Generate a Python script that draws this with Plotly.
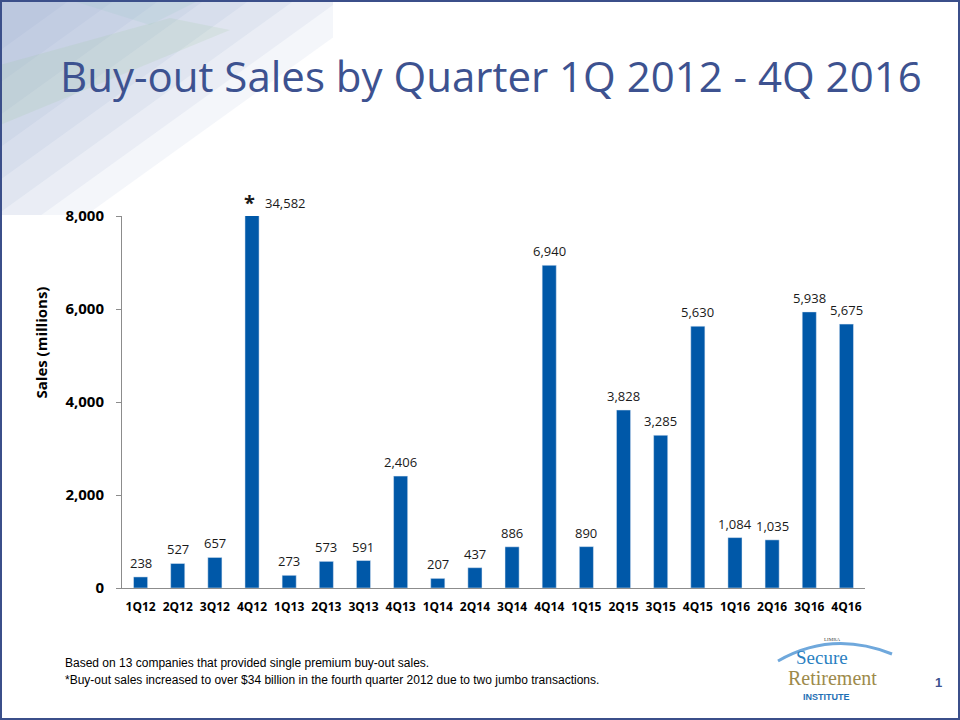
import plotly.graph_objects as go

quarters = ["1Q12","2Q12","3Q12","4Q12","1Q13","2Q13","3Q13","4Q13","1Q14","2Q14",
            "3Q14","4Q14","1Q15","2Q15","3Q15","4Q15","1Q16","2Q16","3Q16","4Q16"]
sales = [238, 527, 657, 34582, 273, 573, 591, 2406, 207, 437,
         886, 6940, 890, 3828, 3285, 5630, 1084, 1035, 5938, 5675]
y_ticks = [0, 2000, 4000, 6000, 8000]
y_max = 8000

title = "Buy-out Sales by Quarter 1Q 2012 - 4Q 2016"
y_title = "Sales (millions)"
note1 = "Based on 13 companies that provided single premium buy-out sales."
note2 = "*Buy-out sales increased to over $34 billion in the fourth quarter 2012 due to two jumbo transactions."

# plot-area geometry in pixels
L, R, T, B = 122, 865, 216, 588
W, H = R - L, B - T
def px(x): return (x - L) / W
def py(y): return (B - y) / H

BAR = "#0058A8"
TXT = "#1a1a1a"
TITLE = "#3D5290"
FONT = "Open Sans"

fig = go.Figure()
fig.add_trace(go.Bar(x=quarters, y=sales, marker_color=BAR, width=0.38,
                     hoverinfo="x+y", showlegend=False))

ann = []
for q, v in zip(quarters, sales):
    if v > y_max:
        ann.append(dict(x=q, y=y_max, xref="x", yref="y", text="<b>*</b>", showarrow=False,
                        yanchor="bottom", xshift=-3, yshift=-2,
                        font=dict(family=FONT, size=20, color=TXT)))
        ann.append(dict(x=q, y=y_max, xref="x", yref="y", text=f"{v:,}", showarrow=False,
                        yanchor="bottom", xshift=33, yshift=2,
                        font=dict(family=FONT, size=13, color=TXT)))
    else:
        ann.append(dict(x=q, y=v, xref="x", yref="y", text=f"{v:,}", showarrow=False,
                        yanchor="bottom", yshift=3,
                        font=dict(family=FONT, size=13, color=TXT)))

ann += [
    dict(x=px(491), y=py(76), xref="paper", yref="paper", text=title, showarrow=False,
         xanchor="center", yanchor="middle", font=dict(family=FONT, size=42, color=TITLE)),
    dict(x=px(40), y=0.5 * (py(278) + py(407)), xref="paper", yref="paper", text=f"<b>{y_title}</b>",
         showarrow=False, textangle=-90, xanchor="center", yanchor="middle",
         font=dict(family=FONT, size=15, color="#000000")),
    dict(x=px(63), y=py(663), xref="paper", yref="paper", text=note1, showarrow=False,
         xanchor="left", yanchor="middle",
         font=dict(family="Liberation Sans Narrow, Arial Narrow, Liberation Sans", size=12, color="#000000")),
    dict(x=px(63), y=py(680), xref="paper", yref="paper", text=note2, showarrow=False,
         xanchor="left", yanchor="middle",
         font=dict(family="Liberation Sans Narrow, Arial Narrow, Liberation Sans", size=12, color="#000000")),
    dict(x=px(938), y=py(682), xref="paper", yref="paper", text="<b>1</b>", showarrow=False,
         xanchor="center", yanchor="middle", font=dict(family="Liberation Sans", size=13, color=TITLE)),
    # logo texts
    dict(x=px(832), y=py(639), xref="paper", yref="paper", text="LIMRA", showarrow=False,
         xanchor="center", yanchor="middle", font=dict(family="Liberation Serif", size=5, color="#444444")),
    dict(x=px(822), y=py(657), xref="paper", yref="paper", text="Secure", showarrow=False,
         xanchor="center", yanchor="middle", font=dict(family="Liberation Serif", size=19, color="#2A7FC1")),
    dict(x=px(832), y=py(678), xref="paper", yref="paper", text="Retirement", showarrow=False,
         xanchor="center", yanchor="middle", font=dict(family="Liberation Serif", size=20, color="#9D8A4B")),
    dict(x=px(826), y=py(697), xref="paper", yref="paper", text="<b>INSTITUTE</b>", showarrow=False,
         xanchor="center", yanchor="middle", font=dict(family="Liberation Sans", size=9, color="#1F6FB5")),
]

# decorative top-left background: stacked translucent triangles -> soft diagonal gradient
BW, BH, SL = 333, 215, 0.72
shapes = []
for k in [70, 115, 160, 205, 250, 295, 340, 385]:
    pts = [(0, 0), (min(k, BW), 0)]
    if k > BW:
        pts.append((BW, min(BH, SL * (k - BW))))
    if SL * k > BH:
        pts.append((max(0, min(BW, k - BH / SL)), BH))
    pts.append((0, min(BH, SL * k)))
    path = "M " + " L ".join(f"{px(a)},{py(b)}" for a, b in pts) + " Z"
    shapes.append(dict(type="path", xref="paper", yref="paper", layer="below", line=dict(width=0),
                       path=path, fillcolor="rgba(130,155,195,0.09)"))
shapes += [
    dict(type="path", xref="paper", yref="paper", layer="below", line=dict(width=0),
         path=f"M {px(0)},{py(65)} L {px(170)},{py(18)} L {px(230)},{py(30)} L {px(0)},{py(125)} Z",
         fillcolor="rgba(150,195,140,0.14)"),
    dict(type="path", xref="paper", yref="paper", layer="below", line=dict(width=0),
         path=f"M {px(70)},{py(0)} L {px(200)},{py(0)} L {px(150)},{py(25)} Z",
         fillcolor="rgba(150,200,190,0.16)"),
    # logo arc
    dict(type="path", xref="paper", yref="paper", line=dict(color="#6FA8DC", width=3),
         path=f"M {px(778)},{py(661)} Q {px(832)},{py(630)} {px(892)},{py(654)}"),
    # slide border
    dict(type="rect", xref="paper", yref="paper", x0=px(1), x1=px(959), y0=py(1), y1=py(719),
         line=dict(color="#3B4F8A", width=2), fillcolor="rgba(0,0,0,0)"),
]

fig.update_layout(
    width=960, height=720,
    margin=dict(l=L, r=960 - R, t=T, b=720 - B, autoexpand=False),
    paper_bgcolor="white", plot_bgcolor="rgba(0,0,0,0)",
    annotations=ann, shapes=shapes,
    xaxis=dict(showline=True, linecolor="#8c8c8c", linewidth=1, ticks="", showgrid=False,
               tickfont=dict(family=FONT, size=12, color="#000000"), fixedrange=True,
               tickprefix="<b>", ticksuffix="</b>", ticklabelstandoff=8),
    yaxis=dict(range=[0, y_max], tickvals=y_ticks, ticktext=[f"<b>{t:,}</b>" for t in y_ticks],
               showline=True, linecolor="#8c8c8c", linewidth=1, ticks="outside", ticklen=5,
               tickcolor="#8c8c8c", showgrid=False, zeroline=False, ticklabelstandoff=9,
               tickfont=dict(family=FONT, size=15, color="#000000"), fixedrange=True),
)

fig.write_html("out.html", config={"displayModeBar": False},
               post_script="document.body.style.margin='0';document.body.style.overflow='hidden';")
